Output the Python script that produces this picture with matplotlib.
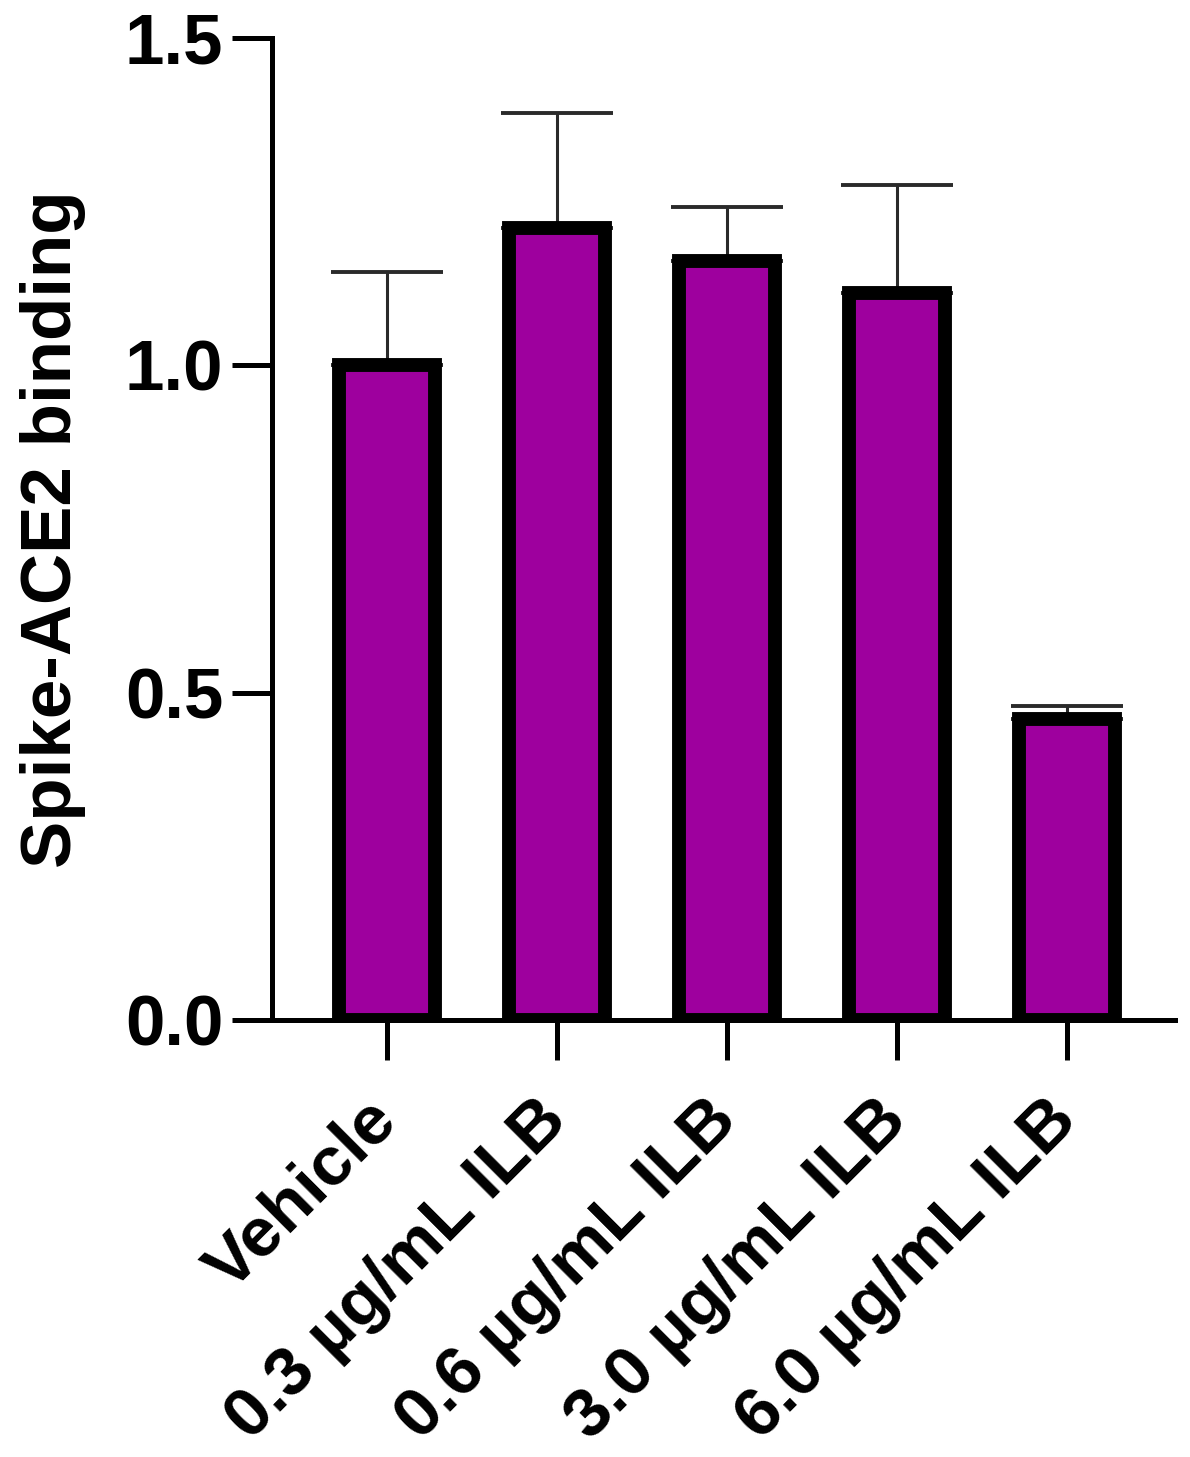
import matplotlib
matplotlib.use("Agg")
import matplotlib.pyplot as plt
import numpy as np

categories = ["Vehicle", "0.3 µg/mL ILB", "0.6 µg/mL ILB", "3.0 µg/mL ILB", "6.0 µg/mL ILB"]
means = [1.00, 1.21, 1.16, 1.11, 0.46]
errors = [0.143, 0.175, 0.082, 0.165, 0.02]
yticks = [0.0, 0.5, 1.0, 1.5]
ytick_labels = ["0.0", "0.5", "1.0", "1.5"]

plt.rcParams["font.family"] = ["Liberation Sans", "DejaVu Sans"]
plt.rcParams["font.weight"] = "bold"

fig = plt.figure(figsize=(11.9, 14.57), dpi=100)
ax = fig.add_axes([0.2286, 0.2999, 0.7588, 0.6740])

x = np.arange(len(categories))
ax.errorbar(x, means, yerr=[np.zeros(len(errors)), errors], fmt="none",
            ecolor="#2a2a2a", elinewidth=2.2, capsize=40, capthick=2.8, zorder=1)
ax.bar(x, means, width=0.56, color="#9E009E", edgecolor="black",
       linewidth=10, zorder=2)

ax.set_xlim(-0.676, 4.635)
ax.set_ylim(0, 1.5)
ax.set_yticks(yticks)
ax.set_yticklabels(ytick_labels, fontsize=51, fontweight="bold")
ax.set_xticks(x)
ax.set_xticklabels(categories, fontsize=50, fontweight="bold",
                   rotation=45, ha="right", va="center", rotation_mode="anchor")

for s in ["top", "right"]:
    ax.spines[s].set_visible(False)
for s in ["left", "bottom"]:
    ax.spines[s].set_linewidth(3.6)
ax.tick_params(axis="both", length=29, width=3.6, pad=6)
ax.tick_params(axis="x", pad=36)

ax.set_ylabel("Spike-ACE2 binding", fontsize=51, fontweight="bold")
ax.yaxis.set_label_coords(-0.206, 0.5)

fig.savefig("out.png", dpi=100)
